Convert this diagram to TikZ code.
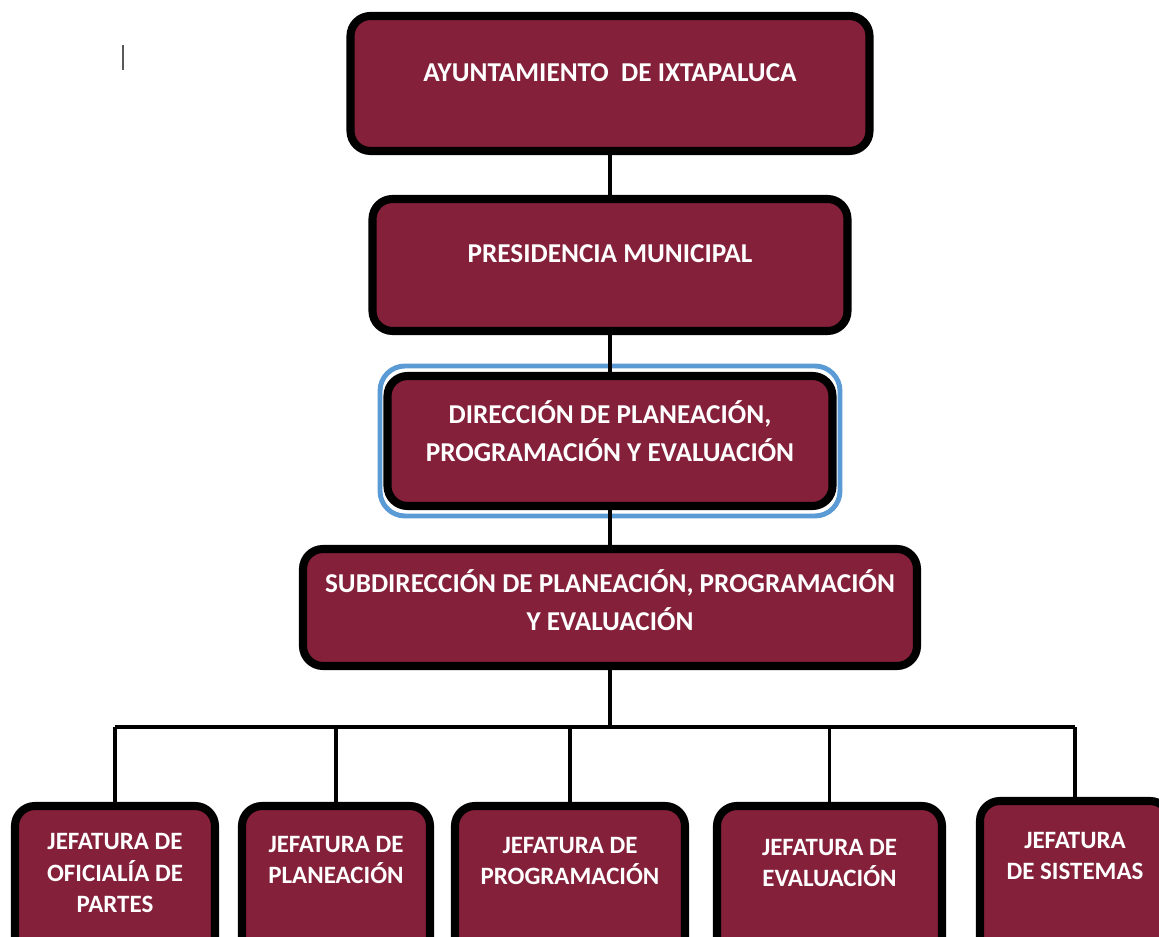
\documentclass[tikz,border=0pt]{standalone}
\usepackage{fontspec}
\setmainfont{Carlito}
\usepackage{xcolor}
\usepackage{tikz}
\usetikzlibrary{positioning}
\definecolor{guinda}{RGB}{132,32,58}
\definecolor{azul}{RGB}{91,155,213}

\begin{document}
\begin{tikzpicture}[
  caja/.style={draw=black, line width=4.6pt, fill=guinda, rounded corners=0.4cm, outer sep=0pt, inner sep=0pt},
  anillo/.style={draw=azul, line width=2.8pt, rounded corners=0.5cm, outer sep=0pt, inner sep=0pt},
  texto/.style={text=white, font=\bfseries\fontsize{15.5}{21.6}\selectfont, align=center},
  textochico/.style={text=white, font=\bfseries\fontsize{14.2}{18.2}\selectfont, align=center},
  linea/.style={line width=1.9pt}]

\useasboundingbox (0,0) rectangle (23.18,18.74);
\draw[gray!70!black, line width=1.2pt] (2.46,17.34) -- (2.46,17.84);

\node(AYU)  [caja, minimum width=10.38cm, minimum height=2.7cm] at (12.2,17.07) {};
\node(PRES) [caja, minimum width=9.5cm, minimum height=2.64cm, below=0.96cm of AYU] {};
\node(DIRA) [anillo, minimum width=9.2cm, minimum height=3cm, below=0.7cm of PRES] {};
\node(DIR)  [caja, minimum width=8.9cm, minimum height=2.6cm] at (DIRA) {};
\node(SUB)  [caja, minimum width=12.28cm, minimum height=2.34cm, below=0.86cm of DIR] {};

\node(J1) [caja, minimum width=4cm, minimum height=3.18cm] at (2.3,1.03) {};
\node(J2) [caja, minimum width=3.76cm, minimum height=3.18cm, right=0.54cm of J1] {};
\node(J3) [caja, minimum width=4.6cm, minimum height=3.18cm, right=0.5cm of J2] {};
\node(J4) [caja, minimum width=4.5cm, minimum height=3.18cm, right=0.64cm of J3] {};
\node(J5) [caja, minimum width=3.8cm, minimum height=3.18cm, right=0.76cm of J4, yshift=0.1cm] {};

\node(AYUT)  [texto, yshift=0.21cm] at (AYU)  {AYUNTAMIENTO~ DE IXTAPALUCA};
\node(PREST) [texto, yshift=0.22cm] at (PRES) {PRESIDENCIA MUNICIPAL};
\node(DIRT)  [texto, yshift=0.2cm]  at (DIR)  {DIRECCIÓN DE PLANEACIÓN,\\PROGRAMACIÓN Y EVALUACIÓN};
\node(SUBT)  [texto, yshift=0.15cm] at (SUB)  {SUBDIRECCIÓN DE PLANEACIÓN, PROGRAMACIÓN\\Y EVALUACIÓN};
\node(J1T) [textochico, yshift=0.25cm] at (J1) {JEFATURA DE\\OFICIALÍA DE\\PARTES};
\node(J2T) [textochico, yshift=0.51cm] at (J2) {JEFATURA DE\\PLANEACIÓN};
\node(J3T) [textochico, yshift=0.49cm] at (J3) {JEFATURA DE\\PROGRAMACIÓN};
\node(J4T) [textochico, yshift=0.45cm] at (J4) {JEFATURA DE\\EVALUACIÓN};
\node(J5T) [textochico, yshift=0.49cm] at (J5) {JEFATURA\\DE SISTEMAS};

\coordinate(BUS) at (12.24,4.2);
\draw[linea] (AYU.south)  -- (PRES.north);
\draw[linea] (PRES.south) -- (DIR.north);
\draw[linea] (DIR.south)  -- (SUB.north);
\draw[linea] (SUB.south)  -- (SUB.south |- BUS);
\draw[linea] (J1.north |- BUS) -- (J5.north |- BUS);
\foreach \j in {J1,J2,J3,J4,J5}
  \draw[linea] (\j.north) -- (\j.north |- BUS);
\end{tikzpicture}
\end{document}
